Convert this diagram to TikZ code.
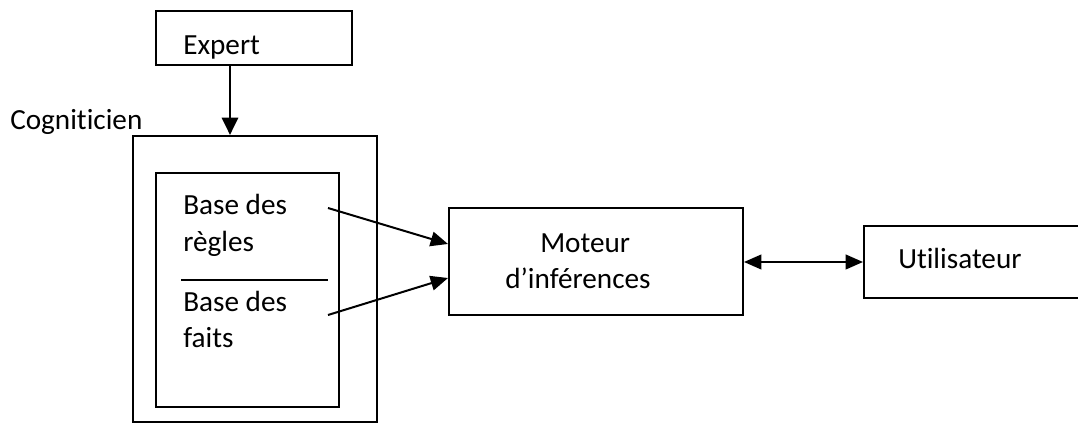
\documentclass[tikz,border=0pt]{standalone}
\usepackage{fontspec}
\setmainfont[Ligatures=NoCommon]{Carlito}
\usetikzlibrary{arrows.meta,calc}
\begin{document}
\begin{tikzpicture}[x=0.75pt,y=-0.75pt,
  box/.style={draw,line width=1.5pt,inner sep=0pt,rectangle},
  txt/.style={anchor=base west,inner sep=0pt,font=\fontsize{21.9}{26}\selectfont},
  arr/.style={line width=1.5pt,-{Triangle[length=13pt,width=11pt]}},
  darr/.style={line width=1.5pt,{Triangle[length=13pt,width=11pt]}-{Triangle[length=13pt,width=11pt]}}]
\useasboundingbox (0,0) rectangle (1078,423);
% boxes
\node[box,minimum width=147pt,minimum height=40.5pt] (expert) at (254,38) {};
\node[box,minimum width=183pt,minimum height=214.5pt] (outer) at (255,279) {};
\node[box,minimum width=137.25pt,minimum height=175.5pt] (inner) at (247.5,290) {};
\node[box,minimum width=220.5pt,minimum height=80.25pt] (moteur) at (596,261.5) {};
\node[box,minimum width=177pt,minimum height=54pt] (user) at (982,262) {};
% texts
\node[txt] (texpert) at (183,55) {Expert};
\node[txt] (tcog) at (10,130) {Cogniticien};
\node[txt] (tbr1) at (183,215) {Base des};
\node[txt] (tbr2) at (183,252) {règles};
\node[txt] (tbf1) at (183,312) {Base des};
\node[txt] (tbf2) at (183,348) {faits};
\node[txt] (tmot1) at (540,253) {Moteur};
\node[txt] (tmot2) at (505,289) {d’inférences};
\node[txt] (tuser) at (898,269) {Utilisateur};
% separator
\coordinate (s1) at (181,280);
\coordinate (s2) at (328,280);
\draw[line width=1.5pt] (s1) -- (s2);
% connectors
\coordinate (ax) at (230,0);
\draw[line width=2.2pt,-{Triangle[length=13pt,width=12pt]}] (expert.south -| ax) -- (outer.north -| ax);
\coordinate (r1) at (328,208);
\coordinate (f1) at (328,315);
\draw[arr] (r1) -- ($(moteur.west)+(0,-17.5)$);
\draw[arr] (f1) -- ($(moteur.west)+(0,16.5)$);
\draw[darr] (moteur.east |- user.west) -- (user.west);
\end{tikzpicture}
\end{document}
